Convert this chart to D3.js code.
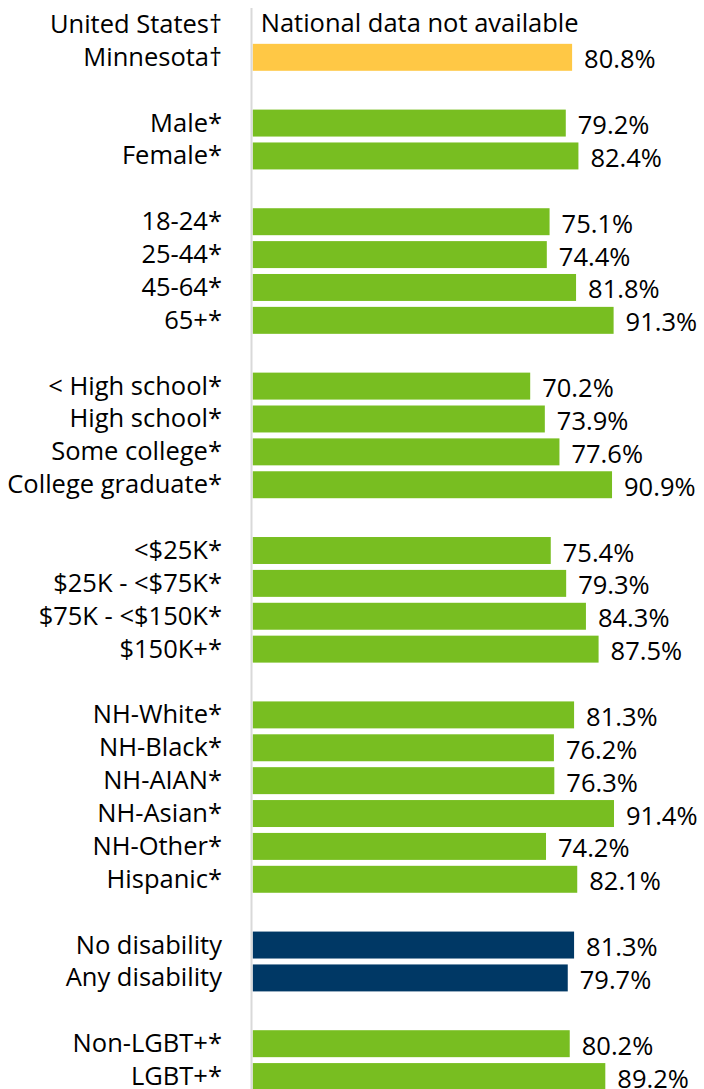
<!DOCTYPE html>
<html>
<head>
<meta charset="utf-8">
<script src="https://cdn.jsdelivr.net/npm/d3@7"></script>
<style>
  body { margin: 0; background: #fff; }
  text { font-family: "Open Sans", "Noto Sans", sans-serif; fill: #000; }
</style>
</head>
<body>
<div class="chart"></div>
<script>
// rows top to bottom, blank strings are the spacer rows between groups
const labels = ["United States\u2020", "Minnesota\u2020", "",
    "Male*", "Female*", "",
    "18-24*", "25-44*", "45-64*", "65+*", "",
    "< High school*", "High school*", "Some college*", "College graduate*", "",
    "<$25K*", "$25K - <$75K*", "$75K - <$150K*", "$150K+*", "",
    "NH-White*", "NH-Black*", "NH-AIAN*", "NH-Asian*", "NH-Other*", "Hispanic*", "",
    "No disability", "Any disability", "",
    "Non-LGBT+*", "LGBT+*"];
const values = [null, 80.8, null,
    79.2, 82.4, null,
    75.1, 74.4, 81.8, 91.3, null,
    70.2, 73.9, 77.6, 90.9, null,
    75.4, 79.3, 84.3, 87.5, null,
    81.3, 76.2, 76.3, 91.4, 74.2, 82.1, null,
    81.3, 79.7, null,
    80.2, 89.2];
const kinds = ["us", "state", "",
    "demo", "demo", "",
    "demo", "demo", "demo", "demo", "",
    "demo", "demo", "demo", "demo", "",
    "demo", "demo", "demo", "demo", "",
    "demo", "demo", "demo", "demo", "demo", "demo", "",
    "disab", "disab", "",
    "demo", "demo"];
const usNote = "National data not available";

const width = 704, height = 1089;
const fontSize = 25.5;

const svg = d3.select('.chart')
    .append('svg')
    .attr('width', width)
    .attr('height', height);

const xScale = d3.scaleLinear()
    .domain([0, 100])
    .range([252.7, 648]);
const yScale = d3.scaleBand()
    .domain(d3.range(labels.length))
    .range([8, 1093])
    .paddingInner(0.18)
    .paddingOuter(0.09);
const cScale = d3.scaleOrdinal()
    .domain(["state", "demo", "disab"])
    .range(["#ffc845", "#78be21", "#003865"]);

const rows = labels.map((l, i) => ({label: l, value: values[i], kind: kinds[i], i: i}));
const mid = i => yScale(i) + yScale.bandwidth() / 2;

svg.selectAll('rect.bar')
    .data(rows.filter(d => d.value != null))
    .enter()
    .append('rect')
    .attr('class', 'bar')
    .attr('x', xScale(0))
    .attr('y', d => yScale(d.i))
    .attr('width', d => xScale(d.value) - xScale(0))
    .attr('height', yScale.bandwidth())
    .attr('fill', d => cScale(d.kind));

// vertical axis line
svg.append('line')
    .attr('x1', xScale(0) - 1.2)
    .attr('x2', xScale(0) - 1.2)
    .attr('y1', 8)
    .attr('y2', height)
    .attr('stroke', '#d9d9d9')
    .attr('stroke-width', 2);

svg.selectAll('text.cat')
    .data(rows.filter(d => d.label != ""))
    .enter()
    .append('text')
    .attr('class', 'cat')
    .attr('x', 222)
    .attr('y', d => mid(d.i) + 8.5)
    .attr('text-anchor', 'end')
    .attr('font-size', fontSize)
    .text(d => d.label);

svg.selectAll('text.val')
    .data(rows.filter(d => d.value != null))
    .enter()
    .append('text')
    .attr('class', 'val')
    .attr('x', d => xScale(d.value) + 12)
    .attr('y', d => mid(d.i) + 11)
    .attr('font-size', fontSize)
    .text(d => d3.format('.1f')(d.value) + '%');

svg.append('text')
    .attr('x', xScale(0) + 8)
    .attr('y', mid(0) + 8)
    .attr('font-size', fontSize)
    .text(usNote);
</script>
</body>
</html>
